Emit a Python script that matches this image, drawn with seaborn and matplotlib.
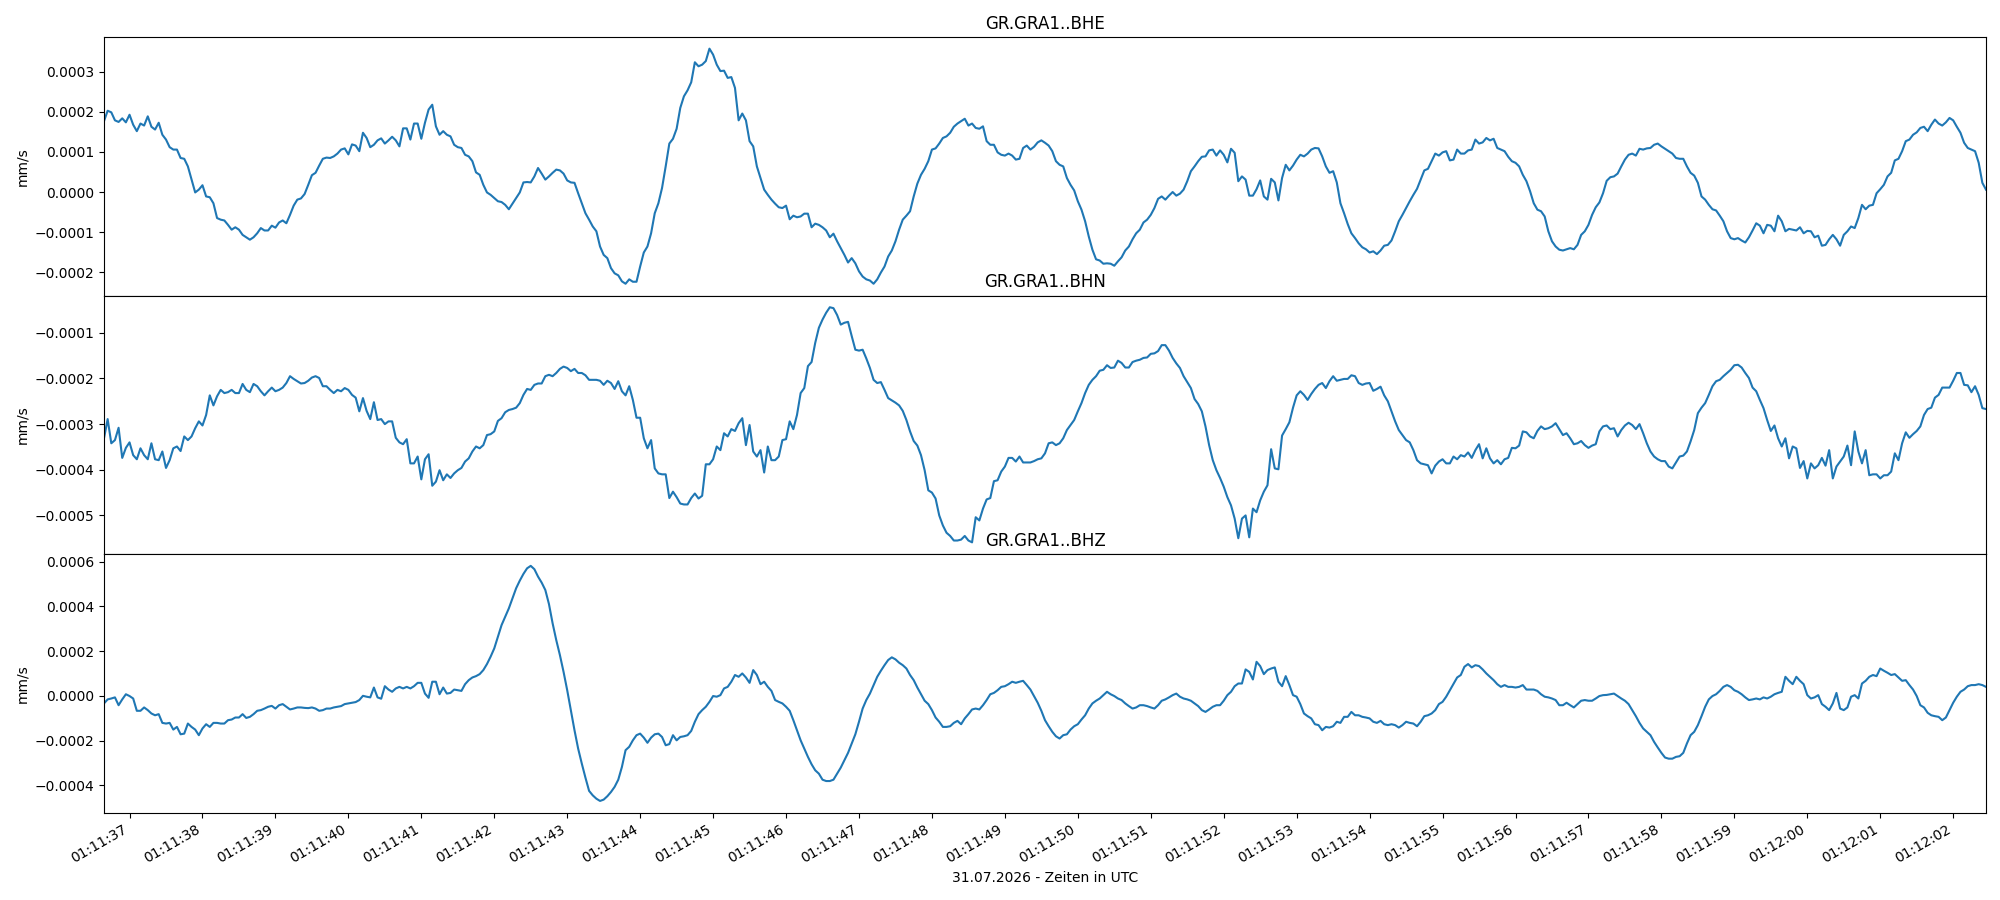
import numpy as np
import pandas as pd
import seaborn as sns
import matplotlib.pyplot as plt
import matplotlib.dates as mdates

start = "2026-07-31 01:11:36.65"
dt = 0.05  # sampling step in s (20 Hz)
channels = ["GR.GRA1..BHE", "GR.GRA1..BHN", "GR.GRA1..BHZ"]
xlabel = "31.07.2026 - Zeiten in UTC"

# ground velocity in units of 1e-4 mm/s
bhe = [
    1.77, 2.03, 1.99, 1.79, 1.75, 1.84, 1.74, 1.93, 1.68, 1.52,
    1.71, 1.66, 1.89, 1.63, 1.56, 1.73, 1.43, 1.31, 1.12, 1.06,
    1.06, 0.85, 0.83, 0.64, 0.31, -0.01, 0.06, 0.17, -0.11, -0.13,
    -0.28, -0.65, -0.69, -0.71, -0.82, -0.94, -0.88, -0.94, -1.07, -1.13,
    -1.19, -1.13, -1.03, -0.90, -0.96, -0.96, -0.84, -0.89, -0.76, -0.71,
    -0.78, -0.57, -0.34, -0.19, -0.16, -0.05, 0.18, 0.42, 0.48, 0.66,
    0.83, 0.86, 0.85, 0.89, 0.96, 1.06, 1.09, 0.94, 1.19, 1.16,
    1.02, 1.48, 1.35, 1.12, 1.18, 1.29, 1.34, 1.21, 1.29, 1.38,
    1.29, 1.14, 1.59, 1.59, 1.31, 1.71, 1.71, 1.33, 1.73, 2.06,
    2.18, 1.64, 1.43, 1.52, 1.43, 1.39, 1.18, 1.12, 1.10, 0.93,
    0.89, 0.77, 0.49, 0.43, 0.18, -0.01, -0.07, -0.15, -0.23, -0.25,
    -0.32, -0.43, -0.29, -0.15, -0.01, 0.24, 0.25, 0.24, 0.39, 0.60,
    0.46, 0.31, 0.39, 0.48, 0.56, 0.54, 0.46, 0.29, 0.24, 0.23,
    -0.03, -0.28, -0.53, -0.69, -0.86, -0.98, -1.36, -1.57, -1.65, -1.90,
    -2.03, -2.08, -2.23, -2.29, -2.18, -2.24, -2.24, -1.86, -1.51, -1.36,
    -1.03, -0.53, -0.28, 0.10, 0.64, 1.21, 1.33, 1.58, 2.10, 2.39,
    2.54, 2.74, 3.24,
    3.14, 3.18, 3.27, 3.58, 3.43, 3.18, 3.02, 3.03, 2.85, 2.87,
    2.60, 1.79, 1.96, 1.79, 1.27, 1.14, 0.64, 0.35, 0.06, -0.07,
    -0.19, -0.29, -0.38, -0.40, -0.34, -0.68, -0.59, -0.63, -0.61, -0.54,
    -0.54, -0.88, -0.79, -0.82, -0.88, -0.96, -1.13, -1.04, -1.23, -1.40,
    -1.57, -1.76, -1.65, -1.78, -1.98, -2.11, -2.18, -2.21, -2.29, -2.18,
    -2.01, -1.86, -1.61, -1.46, -1.23, -0.94, -0.69, -0.59, -0.48, -0.11,
    0.21, 0.43, 0.58, 0.77, 1.06, 1.09, 1.21, 1.35, 1.39, 1.48,
    1.63, 1.71, 1.77, 1.83, 1.66, 1.71, 1.60, 1.58, 1.64, 1.27,
    1.18, 1.18, 0.99, 0.93, 0.91, 0.96, 0.91, 0.81, 0.83, 1.10,
    1.16, 1.06, 1.13, 1.24, 1.29, 1.23, 1.16, 1.02, 0.77, 0.68,
    0.64, 0.35, 0.18, 0.04, -0.23, -0.44, -0.73, -1.11, -1.44, -1.68,
    -1.71, -1.79, -1.78, -1.79, -1.84, -1.73, -1.63, -1.46, -1.36,
    -1.18, -1.03, -0.94, -0.76, -0.69, -0.57, -0.40, -0.17, -0.11, -0.19,
    -0.09, 0.00, -0.09, -0.04, 0.06, 0.27, 0.52, 0.64, 0.77, 0.88,
    0.89, 1.04, 1.06, 0.91, 1.04, 0.93, 0.74, 1.08, 0.98, 0.27,
    0.39, 0.31, -0.09, -0.09, 0.07, 0.29, -0.11, -0.19, 0.33, 0.24,
    -0.21, 0.35, 0.68, 0.54, 0.66, 0.81, 0.93, 0.89, 0.96, 1.06,
    1.10, 1.09, 0.89, 0.64, 0.48, 0.52, 0.24, -0.28, -0.53,
    -0.80, -1.03, -1.15, -1.28, -1.38, -1.43, -1.51, -1.48, -1.55, -1.46,
    -1.34, -1.32, -1.21, -0.98, -0.73, -0.57, -0.40, -0.23, -0.07, 0.08,
    0.31, 0.54, 0.58, 0.77, 0.96, 0.91, 0.99, 1.02, 0.79, 0.81,
    1.06, 0.96, 0.96, 1.04, 1.06, 1.31, 1.21, 1.24, 1.35, 1.29,
    1.33, 1.10, 1.06, 1.02, 0.88, 0.77, 0.73, 0.64, 0.43, 0.27,
    0.02, -0.28, -0.44, -0.48, -0.61, -0.98, -1.23, -1.36, -1.44, -1.46,
    -1.43, -1.40, -1.43, -1.32, -1.07, -0.98, -0.82, -0.57, -0.38, -0.26,
    -0.03, 0.28, 0.37, 0.39, 0.46, 0.64, 0.81, 0.93, 0.96, 0.91,
    1.08, 1.06, 1.09, 1.10, 1.18, 1.21, 1.14, 1.08, 1.02, 0.96,
    0.85, 0.83, 0.83, 0.64, 0.48, 0.41, 0.23, -0.11, -0.19, -0.32,
    -0.43, -0.46, -0.59, -0.73, -0.98, -1.15, -1.18, -1.15, -1.21, -1.26,
    -1.13, -0.96, -0.78, -0.84, -1.03, -0.82, -0.84, -0.98, -0.59, -0.73,
    -0.98, -0.92, -0.94, -0.96, -0.88, -1.03, -0.97, -0.98, -1.13, -1.09,
    -1.34, -1.32, -1.18, -1.07, -1.18, -1.34, -1.07, -0.98, -0.86, -0.90,
    -0.65, -0.32, -0.43, -0.34, -0.32, -0.03, 0.07, 0.18, 0.39, 0.48,
    0.79, 0.83, 1.02, 1.27, 1.31, 1.43, 1.49, 1.60, 1.63, 1.52,
    1.68, 1.81, 1.71, 1.66, 1.74, 1.85, 1.79, 1.63, 1.48, 1.23,
    1.10, 1.06, 1.02, 0.73, 0.23, 0.06,
]

bhn = [
    -3.31, -2.89, -3.42, -3.35, -3.08, -3.74, -3.52, -3.40, -3.68, -3.77,
    -3.53, -3.68, -3.77, -3.42, -3.77, -3.79, -3.60, -3.96, -3.79, -3.53,
    -3.49, -3.59, -3.27, -3.35, -3.27, -3.09, -2.94, -3.03, -2.80, -2.37,
    -2.59, -2.39, -2.25, -2.32, -2.30, -2.25, -2.32, -2.32, -2.12, -2.25,
    -2.30, -2.12, -2.17, -2.28, -2.37, -2.28, -2.20, -2.28, -2.25, -2.20,
    -2.10, -1.95, -2.01, -2.06, -2.11, -2.10, -2.05, -1.98, -1.95, -1.99,
    -2.17, -2.17, -2.25, -2.32, -2.25, -2.28, -2.21, -2.25, -2.36, -2.42,
    -2.72, -2.43, -2.71, -2.89, -2.52, -2.91, -2.89, -3.00, -2.94, -2.94,
    -3.30, -3.40, -3.44, -3.33, -3.86, -3.86, -3.71, -4.21, -3.77, -3.66,
    -4.35, -4.26, -4.01, -4.23, -4.10, -4.18, -4.08, -4.01, -3.96, -3.82,
    -3.75, -3.60, -3.49, -3.53, -3.46, -3.24, -3.22, -3.16, -2.93, -2.87,
    -2.74, -2.69, -2.67, -2.64, -2.54, -2.36, -2.23, -2.25, -2.14, -2.11,
    -2.11, -1.95, -1.92, -1.95, -1.88, -1.79, -1.74, -1.77, -1.84, -1.79,
    -1.88, -1.88, -1.93, -2.03, -2.03, -2.03, -2.05, -2.14, -2.05, -2.10,
    -2.23, -2.06, -2.28, -2.37, -2.17, -2.47, -2.86, -2.86, -3.31, -3.53,
    -3.35, -3.97, -4.08, -4.10, -4.10, -4.62, -4.48, -4.60, -4.74, -4.76,
    -4.76, -4.62, -4.52,
    -4.63, -4.57, -3.88, -3.88, -3.77, -3.49, -3.57, -3.20, -3.27, -3.11,
    -3.15, -2.98, -2.87, -3.46, -3.02, -3.60, -3.71, -3.57, -4.06, -3.49,
    -3.79, -3.79, -3.71, -3.35, -3.33, -2.94, -3.11, -2.80, -2.32, -2.21,
    -1.73, -1.64, -1.22, -0.89, -0.71, -0.56, -0.44, -0.46, -0.61, -0.82,
    -0.78, -0.76, -1.07, -1.37, -1.39, -1.37, -1.56, -1.77, -2.03, -2.10,
    -2.08, -2.25, -2.43, -2.48, -2.53, -2.59, -2.71, -2.91, -3.16, -3.37,
    -3.47, -3.68, -4.01, -4.45, -4.50, -4.63, -5.00, -5.22, -5.38, -5.45,
    -5.55, -5.55, -5.53, -5.45, -5.55, -5.59, -5.04, -5.11, -4.85, -4.65,
    -4.62, -4.25, -4.23, -4.04, -3.93, -3.74, -3.74, -3.82, -3.71, -3.84,
    -3.84, -3.84, -3.81, -3.77, -3.75, -3.64, -3.42, -3.40, -3.46, -3.42,
    -3.31, -3.13, -3.02, -2.91, -2.72, -2.54, -2.32, -2.14, -2.03, -1.95,
    -1.83, -1.81, -1.71, -1.77, -1.76, -1.61, -1.66, -1.76, -1.76, -1.64,
    -1.61, -1.59, -1.55, -1.54, -1.46, -1.45, -1.40, -1.27, -1.27, -1.39,
    -1.55, -1.67, -1.77, -1.95, -2.08, -2.21, -2.45, -2.56, -2.72, -3.05,
    -3.46, -3.79, -4.01, -4.18, -4.37, -4.60, -4.78, -5.07, -5.50, -5.07,
    -5.00, -5.48, -4.85, -4.93, -4.67, -4.48, -4.34, -3.55, -3.97, -3.99,
    -3.25, -3.11, -2.96, -2.64, -2.37, -2.28, -2.36, -2.47, -2.34,
    -2.23, -2.14, -2.10, -2.21, -2.06, -1.95, -2.05, -2.03, -2.01,
    -2.01, -1.93, -1.95, -2.10, -2.14, -2.11, -2.10, -2.27, -2.23, -2.18,
    -2.37, -2.50, -2.72, -2.94, -3.13, -3.24, -3.35, -3.40, -3.57, -3.79,
    -3.86, -3.88, -3.90, -4.08, -3.91, -3.82, -3.77, -3.86, -3.86, -3.71,
    -3.77, -3.68, -3.71, -3.62, -3.74, -3.57, -3.44, -3.75, -3.53, -3.75,
    -3.86, -3.79, -3.88, -3.77, -3.74, -3.52, -3.53, -3.47, -3.16, -3.18,
    -3.27, -3.31, -3.15, -3.05, -3.11, -3.09, -3.05, -2.98, -3.11, -3.24,
    -3.20, -3.31, -3.44, -3.42, -3.37, -3.46, -3.52, -3.47, -3.44, -3.16,
    -3.05, -3.03, -3.11, -3.09, -3.27, -3.13, -3.03, -2.97, -3.02, -3.11,
    -3.00, -3.20, -3.42, -3.60, -3.71, -3.77, -3.81, -3.81, -3.93, -3.97,
    -3.84, -3.71, -3.69, -3.60, -3.38, -3.13, -2.76, -2.64, -2.54, -2.36,
    -2.17, -2.06, -2.03, -1.95, -1.88, -1.81, -1.71, -1.70, -1.76, -1.88,
    -1.99, -2.20, -2.28, -2.47, -2.65, -2.91, -3.15, -3.03, -3.31, -3.49,
    -3.31, -3.75, -3.49, -3.53, -3.96, -3.81, -4.19, -3.86, -3.97, -3.90,
    -3.74, -3.91, -3.57, -4.19, -3.93, -3.82, -3.71, -3.47, -3.90, -3.16,
    -3.60, -3.86, -3.57, -4.12, -4.10, -4.10, -4.19, -4.12, -4.12, -4.04,
    -3.64, -3.79, -3.42, -3.18, -3.30, -3.22, -3.15, -3.05, -2.80, -2.67,
    -2.64, -2.42, -2.36, -2.20, -2.20, -2.20, -2.05, -1.88, -1.88, -2.14,
    -2.15, -2.30, -2.17, -2.36, -2.65, -2.67,
]

bhz = [
    -0.34, -0.16, -0.12, -0.07, -0.42, -0.16, 0.07, -0.01, -0.12, -0.67,
    -0.67, -0.52, -0.64, -0.79, -0.87, -0.82, -1.21, -1.24, -1.21, -1.51,
    -1.39, -1.72, -1.69, -1.24, -1.39, -1.51, -1.76, -1.46, -1.27, -1.39,
    -1.21, -1.21, -1.24, -1.24, -1.09, -1.06, -0.97, -0.97, -0.82, -0.99,
    -0.94, -0.82, -0.67, -0.64, -0.57, -0.49, -0.45, -0.57, -0.42, -0.37,
    -0.49, -0.61, -0.57, -0.52, -0.52, -0.54, -0.55, -0.52, -0.57, -0.67,
    -0.64, -0.57, -0.57, -0.52, -0.49, -0.46, -0.37, -0.34, -0.31, -0.28,
    -0.19, 0.00, -0.04, -0.07, 0.37, -0.07, -0.13, 0.43, 0.28, 0.18,
    0.33, 0.40, 0.33, 0.40, 0.33, 0.43, 0.58, 0.58, 0.10, -0.09,
    0.63, 0.63, 0.07, 0.37, 0.10, 0.13, 0.28, 0.25, 0.22, 0.52,
    0.70, 0.82, 0.88, 0.97, 1.15, 1.42, 1.75, 2.12, 2.64, 3.16,
    3.54, 3.91, 4.36, 4.81, 5.15, 5.45, 5.70, 5.81, 5.66, 5.33,
    5.06, 4.73, 4.10, 3.24, 2.49, 1.82, 1.07, 0.25, -0.64, -1.54,
    -2.36, -3.03, -3.66, -4.25, -4.45, -4.60, -4.70, -4.64, -4.49, -4.30,
    -4.07, -3.75, -3.18, -2.43, -2.28, -1.99, -1.76, -1.69, -1.87, -2.10,
    -1.87, -1.72, -1.69, -1.84, -2.21, -2.16, -1.76, -1.99, -1.84, -1.81,
    -1.76, -1.57, -1.16,
    -0.82, -0.64, -0.49, -0.27, -0.01, -0.04, 0.03, 0.33, 0.40, 0.63,
    0.93, 0.85, 1.00, 0.82, 0.58, 1.15, 0.93, 0.52, 0.63, 0.40,
    0.22, -0.19, -0.27, -0.34, -0.49, -0.67, -1.09, -1.54, -1.99, -2.36,
    -2.73, -3.06, -3.33, -3.48, -3.75, -3.81, -3.81, -3.75, -3.48, -3.21,
    -2.88, -2.55, -2.13, -1.72, -1.16, -0.57, -0.19, 0.10, 0.48, 0.85,
    1.12, 1.37, 1.60, 1.72, 1.63, 1.48, 1.37, 1.22, 0.93, 0.70,
    0.37, 0.07, -0.22, -0.37, -0.64, -0.97, -1.16, -1.39, -1.39, -1.36,
    -1.21, -1.12, -1.27, -1.01, -0.82, -0.61, -0.57, -0.61, -0.42, -0.19,
    0.07, 0.13, 0.25, 0.40, 0.43, 0.52, 0.63, 0.58, 0.63, 0.67,
    0.48, 0.28, -0.01, -0.31, -0.67, -1.09, -1.36, -1.61, -1.81, -1.91,
    -1.76, -1.72, -1.51, -1.36, -1.27, -1.06, -0.87, -0.57, -0.34, -0.22,
    -0.12, 0.03, 0.18, 0.07, -0.01, -0.12, -0.19, -0.34, -0.46, -0.57,
    -0.52, -0.42, -0.42, -0.46, -0.52, -0.57, -0.42, -0.22, -0.16, -0.07,
    0.03, 0.10, -0.04, -0.12, -0.16, -0.22, -0.34, -0.46, -0.64, -0.72,
    -0.61, -0.49, -0.42, -0.42, -0.22, 0.03, 0.18, 0.43, 0.55, 0.55,
    1.18, 1.07, 0.73, 1.52, 1.33, 0.97, 1.15, 1.22, 1.27, 0.63,
    0.43, 0.88, 0.48, 0.03, -0.04, -0.37, -0.79, -0.91, -1.01, -1.27,
    -1.31, -1.54, -1.39, -1.42, -1.36, -1.16, -1.21, -0.94,
    -0.94, -0.72, -0.87, -0.87, -0.94, -0.97, -1.01, -1.16, -1.21, -1.12,
    -1.27, -1.31, -1.27, -1.31, -1.42, -1.31, -1.16, -1.21, -1.24, -1.36,
    -1.16, -0.91, -0.87, -0.79, -0.64, -0.37, -0.27, -0.04, 0.25, 0.55,
    0.82, 0.93, 1.30, 1.42, 1.27, 1.37, 1.33, 1.18, 1.00, 0.85, 0.70,
    0.52, 0.40, 0.48, 0.40, 0.40, 0.37, 0.40, 0.48, 0.28, 0.28,
    0.28, 0.22, 0.07, -0.04, -0.07, -0.12, -0.19, -0.42, -0.42, -0.31,
    -0.42, -0.52, -0.37, -0.22, -0.19, -0.22, -0.22, -0.12, -0.01, 0.03,
    0.04, 0.07, 0.10, -0.01, -0.12, -0.22, -0.37, -0.64, -0.91, -1.21,
    -1.46, -1.61, -1.76, -2.06, -2.31, -2.55, -2.76, -2.81, -2.81, -2.73,
    -2.70, -2.55, -2.13, -1.76, -1.61, -1.31, -0.91, -0.49, -0.16, -0.01,
    0.07, 0.22, 0.40, 0.48, 0.40, 0.25, 0.18, 0.07, -0.07, -0.19,
    -0.16, -0.12, -0.16, -0.07, -0.12, -0.04, 0.07, 0.13, 0.18, 0.85,
    0.67, 0.52, 0.85, 0.67, 0.52, 0.03, -0.12, -0.07, 0.03, -0.37,
    -0.49, -0.64, -0.34, 0.13, -0.57, -0.64, -0.52, -0.04, 0.03, -0.12,
    0.55, 0.67, 0.85, 0.93, 0.88, 1.22, 1.12, 1.03, 0.93, 0.97,
    0.82, 0.67, 0.70, 0.48, 0.28, -0.01, -0.42, -0.52, -0.76, -0.87,
    -0.91, -0.94, -1.09, -0.97, -0.64, -0.31, -0.04, 0.18, 0.28, 0.43,
    0.48, 0.48, 0.52, 0.48, 0.40,
]

fig, axes = plt.subplots(3, 1, figsize=(20, 9), sharex=True)
fig.subplots_adjust(left=0.052, right=0.993, top=0.959, bottom=0.097, hspace=0)

t0 = pd.Timestamp(start)
for ax, name, vals in zip(axes, channels, [bhe, bhn, bhz]):
    v = np.array(vals) * 1e-4
    t = t0 + pd.to_timedelta(np.arange(len(v)) * dt, unit="s")
    df = pd.DataFrame({"zeit": t, "v": v})
    sns.lineplot(data=df, x="zeit", y="v", ax=ax, color="#1f77b4",
                 linewidth=1.5, estimator=None)
    ax.set_title(name)
    ax.set_ylabel("mm/s")
    ax.set_xlabel("")

t_end = t0 + pd.to_timedelta((len(bhe) - 1) * dt, unit="s")
axes[0].set_xlim(t0, t_end)
for ax in axes[:-1]:
    ax.tick_params(axis="x", which="both", bottom=False, labelbottom=False)

axes[-1].xaxis.set_major_locator(mdates.SecondLocator())
axes[-1].xaxis.set_major_formatter(mdates.DateFormatter("%H:%M:%S"))
plt.setp(axes[-1].get_xticklabels(), rotation=30, ha="right")
axes[-1].set_xlabel(xlabel)

fig.savefig("out.png", dpi=100)
